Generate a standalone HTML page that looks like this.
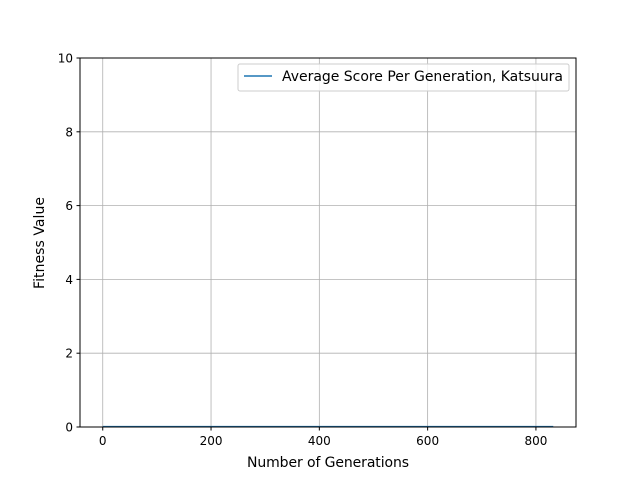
<!DOCTYPE html>
<html><head><meta charset="utf-8"><style>
body{margin:0;background:#fff;font-family:"Liberation Sans","DejaVu Sans",sans-serif}
svg text{font-family:"DejaVu Sans","Liberation Sans",sans-serif;font-size:12px;fill:#000}
svg text.big{font-size:14px}
</style></head><body>
<svg id="chart" width="640" height="480" xmlns="http://www.w3.org/2000/svg">
<rect width="640" height="480" fill="#fff"/>
<g id="grid"></g>
<g id="ticks"></g>
<g id="series"></g>
<rect x="80" y="58" width="496" height="369" fill="none" stroke="#000" stroke-width="1"/>
<text class="big" x="328" y="467" text-anchor="middle" textLength="162">Number of Generations</text>
<text class="big" transform="translate(44,243) rotate(-90)" text-anchor="middle" textLength="92">Fitness Value</text>
<g>
<rect x="238" y="64" width="331" height="27" rx="2" fill="#fff" fill-opacity="0.8" stroke="#ccc"/>
<line x1="244" y1="76" x2="272" y2="76" stroke="#1f77b4" stroke-width="1.5"/>
<text class="big" x="282" y="81" textLength="281">Average Score Per Generation, Katsuura</text>
</g>
</svg>
<script>
const generations = [0, 100, 200, 300, 400, 500, 600, 700, 832];
const scores = [0.01, 0.01, 0.01, 0.01, 0.01, 0.01, 0.01, 0.01, 0.01];
const xTicks = [0, 200, 400, 600, 800];
const yTicks = [0, 2, 4, 6, 8, 10];
const X0=80,X1=576,Y0=427,Y1=58,xmin=-42,xmax=874,ymin=0,ymax=10;
const sx=v=>X0+(v-xmin)/(xmax-xmin)*(X1-X0);
const sy=v=>Y0-(v-ymin)/(ymax-ymin)*(Y0-Y1);
const NS="http://www.w3.org/2000/svg";
const grid=document.getElementById('grid'),ticks=document.getElementById('ticks'),ser=document.getElementById('series');
function mk(t,a,p){const e=document.createElementNS(NS,t);for(const k in a)e.setAttribute(k,a[k]);p.appendChild(e);return e;}
xTicks.forEach(v=>{const x=sx(v);
 const g=mk('line',{x1:x,x2:x,y1:Y1,y2:Y0,stroke:'#b0b0b0','stroke-width':0.8},grid);
 
 
 const t=mk('line',{x1:x,x2:x,y1:Y0,y2:Y0+3.5,stroke:'#000'},ticks);
 
 
 const l=mk('text',{x:x,y:Y0+18,'text-anchor':'middle'},ticks);l.textContent=v;
 
 
});
yTicks.forEach(v=>{const y=sy(v);
 const g=mk('line',{x1:X0,x2:X1,y1:y,y2:y,stroke:'#b0b0b0','stroke-width':0.8},grid);
 
 
 const t=mk('line',{x1:X0-3.5,x2:X0,y1:y,y2:y,stroke:'#000'},ticks);
 
 
 const l=mk('text',{x:X0-7,y:y+4.5,'text-anchor':'end'},ticks);l.textContent=v;
 
 
});
const pts=generations.map((g,i)=>sx(g)+','+sy(scores[i])).join(' ');
const pl=mk('polyline',{points:pts,fill:'none',stroke:'#1f77b4','stroke-width':1.5},ser);


</script>
</body></html>
